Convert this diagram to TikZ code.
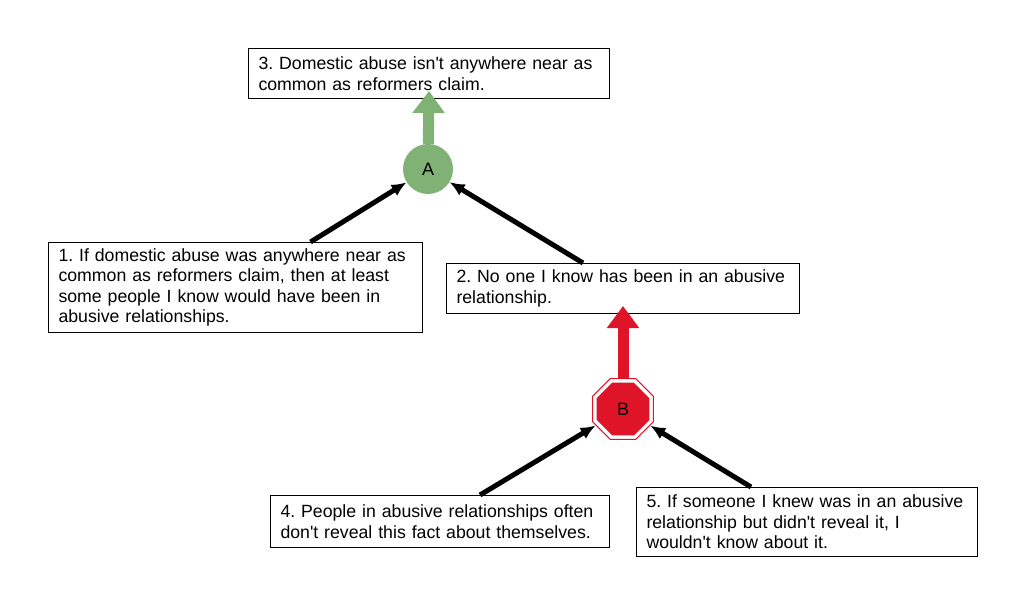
\documentclass[tikz,border=0pt]{standalone}
\usepackage{fontspec}
\setmainfont{Liberation Sans}
\frenchspacing
\usetikzlibrary{arrows.meta,shapes.geometric}
\definecolor{agreen}{RGB}{127,178,116}
\definecolor{bred}{RGB}{224,20,40}
\newcommand{\q}{\textquotesingle}
\newcommand{\tline}[1]{\mbox{#1}}
\begin{document}
\begin{tikzpicture}[x=1pt,y=-1pt,
  claim/.style={draw=black,line width=1pt,anchor=north west,align=left,
    inner xsep=10pt,inner ysep=3pt,font=\fontsize{17.7}{20.5}\selectfont},
  octo/.style={regular polygon,regular polygon sides=8,inner sep=0pt},
  support/.style={line width=5pt,-{Latex[length=15pt,width=13pt]}},
  bigarrow/.style={line width=11pt,-{Triangle[length=22pt,width=31pt]}}]
\useasboundingbox (0,0) rectangle (1027,606);
\node[claim,text width=341pt,minimum height=50pt] (n3) at (248,48)
  {\tline{3. Domestic abuse isn\q t anywhere near as}\\\tline{common as reformers claim.}};
\node[claim,text width=354pt,minimum height=90pt] (n1) at (48,242)
  {\tline{1. If domestic abuse was anywhere near as}\\\tline{common as reformers claim, then at least}\\\tline{some people I know would have been in}\\\tline{abusive relationships.}};
\node[claim,text width=333pt,minimum height=50pt] (n2) at (446,263)
  {\tline{2. No one I know has been in an abusive}\\\tline{relationship.}};
\node[claim,text width=319pt,minimum height=52pt] (n4) at (270,495)
  {\tline{4. People in abusive relationships often}\\\tline{don\q t reveal this fact about themselves.}};
\node[claim,text width=321pt,minimum height=69pt] (n5) at (636,487)
  {\tline{5. If someone I knew was in an abusive}\\\tline{relationship but didn\q t reveal it, I}\\\tline{wouldn\q t know about it.}};
\node[circle,fill=agreen,minimum size=50pt,inner sep=0pt,font=\fontsize{18}{20}\selectfont] (A) at (428,169) {A};
\node[octo,draw=bred,fill=white,line width=1pt,minimum size=66pt] (B) at (623,409) {};
\node[octo,fill=bred,minimum size=57pt,font=\fontsize{18}{20}\selectfont] (Bc) at (B) {B};
\draw[bigarrow,agreen] (A) -- ([yshift=8pt]n3.south);
\draw[bigarrow,bred] (B) -- ([yshift=8pt]n2.south);
\draw[support] ([xshift=75pt]n1.north) -- (A);
\draw[support] ([xshift=-40pt]n2.north) -- (A);
\draw[support] ([xshift=40pt]n4.north) -- (B);
\draw[support] ([xshift=-56pt]n5.north) -- (B);
\end{tikzpicture}
\end{document}
